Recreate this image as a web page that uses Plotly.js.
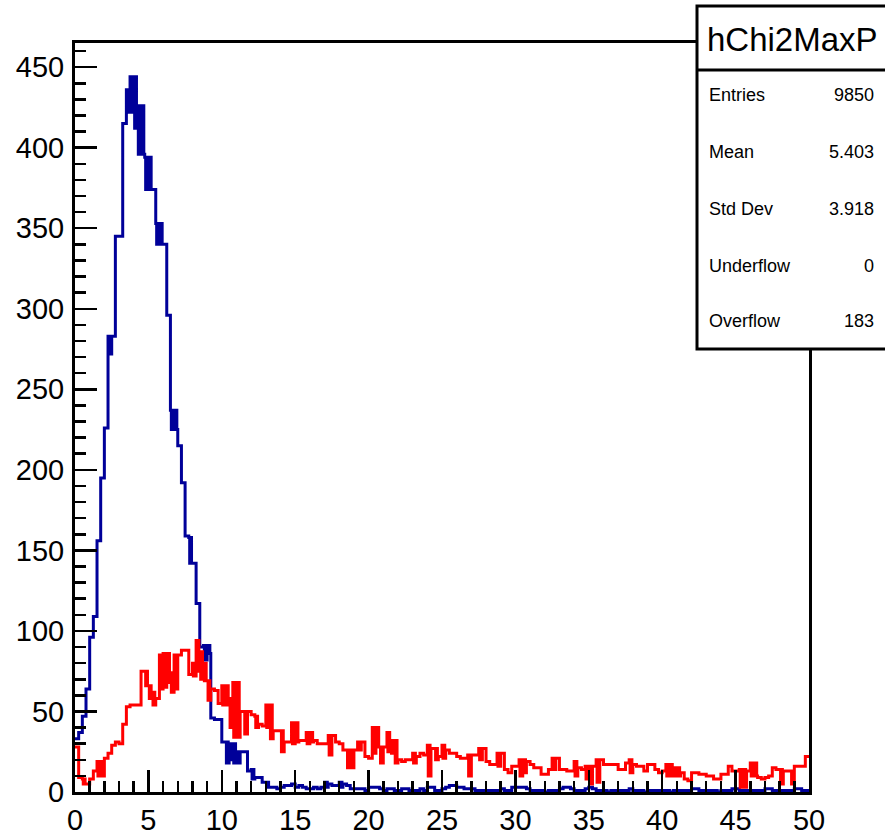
<!DOCTYPE html>
<html><head><meta charset="utf-8">
<script src="https://cdn.plot.ly/plotly-3.0.1.min.js"></script>
<style>html,body{margin:0;padding:0;background:#fff;}#chart{width:885px;height:837px;}</style>
</head><body><div id="chart"></div>
<script>
// ---- data (200 bins of width 0.25 from 0 to 50); [top, bottom] = bin drawn as a filled jitter block
const binWidth = 0.25;
const xMin = 0, xMax = 50;
const blueCounts = [
 33, 37, 47, 64, 96, 109, 156, 195, 226, [283,272],
 283, 345, 345, 415, [436,422], [444,422], [444,412], [426,396], [426,396], [394,374],
 [394,374], 374, [353,340], [353,340], 340, 296, [237,225], [237,225], 215, 192,
 159, [158,142], 142, 117, 90, [91,82], [91,86], 46, 45, 45,
 31, [31,18], [30,20], [30,18], [25,18], 25, 25, 13, [14,8], 9,
 9, 6, [6,3], 3, 3, 2, 3, 4, 4, 5,
 3, 4, 3, 2, 2, 3, 2, 3, [6,3], 5,
 4, 4, [6,3], 5, 4, 2, 2, 2, 2, 1,
 3, 3, 3, 2, 1, 2, 2, 1, 1, 2,
 2, 1, 1, 1, 2, 1, 3, 3, 1, 1,
 2, 3, 4, 4, 3, 3, 2, 2, 2, 1,
 1, 1, 1, 1, 1, 1, 2, 1, 1, 3,
 3, 3, 3, 2, 1, 1, 1, 1, 0, 1,
 1, 1, 2, 3, 3, 2, 1, 1, 1, 2,
 3, 2, 1, 1, 1, 0, 1, 1, 1, 1,
 1, 2, 1, 1, 1, 0, 1, 1, 1, 1,
 1, 1, 0, 1, 1, 1, 1, 1, 2, 2,
 1, 1, 1, 1, 1, 0, 1, 1, 1, 2,
 2, 1, 1, 1, 1, 1, 1, 1, 2, 2,
 1, 1, 1, 1, 1, 1, 2, 2, 1, 1
];
const redCounts = [
 28, 9, [8,5], 5, 8, 13, [19,10], [19,10], 21, 24,
 29, 31, 30, 42, 53, 54, 54, 54, 75, [75,66],
 [66,58], [62,54], 58, [85,64], [86,65], [86,68], [74,62], [85,64], 85, 88,
 88, 73, [80,72], [94,75], [87,70], [80,69], [69,57], 64, 63, 55,
 [66,54], [66,54], [58,40], [68,34], [68,34], 50, [50,36], 50, 48, [47,40],
 42, 41, [54,40], [54,33], 38, 38, [38,25], 31, 31, [43,30],
 [43,31], 32, 32, [37,30], [37,31], 32, 30, 30, 30, [35,23],
 35, 31, 30, 26, [26,15], [26,15], 26, [31,26], 31, 22,
 21, [40,24], [40,28], [28,18], 28, [37,25], [32,24], [32,18], 20, 19,
 20, 20, [24,18], 22, 24, 23, [29,10], 27, [27,20], 22,
 [29,21], 26, 24, 24, 22, 21, 21, [23,10], 23, 23,
 [27,20], 27, 19, 17, 17, [24,16], 24, 14, 12, 16,
 16, [20,10], [20,12], 19, 17, 15, 15, 11, 11, 14,
 [21,14], 21, 14, 14, 13, 13, [19,10], 15, 14, [16,8],
 [16,5], 16, [20,6], 20, 17, 17, 17, 17, 14, 14,
 18, [20,12], 17, 16, 16, 13, 17, 17, 14, 12,
 13, [17,10], [17,10], [15,10], [15,10], 12, 8, 7, 12, 12,
 11, 11, 10, 10, 8, 8, 11, 11, 16, 13,
 13, [14,3], [14,3], 13, [18,10], [18,10], 9, 8, 9, 10,
 15, 14, [14,5], 13, 13, [13,5], 16, 16, 16, 22
];
const statsTitle = 'hChi2MaxP';
const statsLabels = ['Entries', 'Mean', 'Std Dev', 'Underflow', 'Overflow'];
const statsValues = ['9850', '5.403', '3.918', '0', '183'];

// ---- build step outlines
function stepPath(counts){
  const xs = [], ys = [];
  const sub = 4;
  counts.forEach((c, k) => {
    const x0 = xMin + k * binWidth;
    if (Array.isArray(c)) {
      for (let s = 0; s < sub; s++) { xs.push(x0 + s * binWidth / sub); ys.push(s % 2 === 0 ? c[0] : c[1]); }
    } else { xs.push(x0); ys.push(c); }
  });
  const last = counts[counts.length - 1];
  xs.push(xMax); ys.push(Array.isArray(last) ? last[1] : last);
  return {xs, ys};
}
const b = stepPath(blueCounts), r = stepPath(redCounts);
const traces = [
  {type:'scatter', mode:'lines', x:b.xs, y:b.ys, line:{shape:'hv', color:'#000099', width:3}, hoverinfo:'skip'},
  {type:'scatter', mode:'lines', x:r.xs, y:r.ys, line:{shape:'hv', color:'#ff0000', width:3}, hoverinfo:'skip'}
];

// ---- layout (pixel geometry -> paper coords)
const W = 885, H = 837, L = 75, R = 809, T = 43, B = 792;
const px = X => (X - L) / (R - L);
const py = Y => (B - Y) / (B - T);
const axisCommon = {
  showgrid:false, zeroline:false, showline:true, linecolor:'#000', linewidth:3, mirror:true,
  ticks:'inside', tickcolor:'#000', tickwidth:2.5, ticklen:22,
  tickfont:{family:'Liberation Sans, Arial, sans-serif', size:29, color:'#000'},
  fixedrange:true
};
const annotations = [{
  xref:'paper', yref:'paper', x:px(792), y:py(40), xanchor:'center', yanchor:'middle',
  text:statsTitle, showarrow:false, font:{family:'Liberation Sans, Arial, sans-serif', size:33, color:'#000'}
}];
const rowY = [95, 152, 209, 266, 321];
statsLabels.forEach((lab, i) => {
  annotations.push({xref:'paper', yref:'paper', x:px(707), y:py(rowY[i]), xanchor:'left', yanchor:'middle',
    text:lab, showarrow:false, font:{family:'Liberation Sans, Arial, sans-serif', size:18, color:'#000'}});
  annotations.push({xref:'paper', yref:'paper', x:px(876), y:py(rowY[i]), xanchor:'right', yanchor:'middle',
    text:statsValues[i], showarrow:false, font:{family:'Liberation Sans, Arial, sans-serif', size:18, color:'#000'}});
});
const layout = {
  width:W, height:H,
  margin:{l:L, r:W - R, t:T, b:H - B, pad:0},
  paper_bgcolor:'#fff', plot_bgcolor:'#fff', showlegend:false,
  xaxis:Object.assign({}, axisCommon, {range:[xMin, xMax], tick0:0, dtick:5,
    minor:{dtick:1, ticks:'inside', ticklen:11, tickwidth:2.5, tickcolor:'#000', showgrid:false}}),
  yaxis:Object.assign({}, axisCommon, {range:[0, 465], tick0:0, dtick:50, ticklabelstandoff:2,
    minor:{dtick:10, ticks:'inside', ticklen:11, tickwidth:2.5, tickcolor:'#000', showgrid:false}}),
  shapes:[
    {type:'rect', xref:'paper', yref:'paper', x0:px(697), x1:px(892), y0:py(349), y1:py(6),
     line:{color:'#000', width:3}, fillcolor:'#fff', layer:'above'},
    {type:'line', xref:'paper', yref:'paper', x0:px(697), x1:px(892), y0:py(70), y1:py(70),
     line:{color:'#000', width:3}, layer:'above'}
  ],
  annotations:annotations
};
Plotly.newPlot('chart', traces, layout, {staticPlot:true, displayModeBar:false});
</script>
</body></html>
